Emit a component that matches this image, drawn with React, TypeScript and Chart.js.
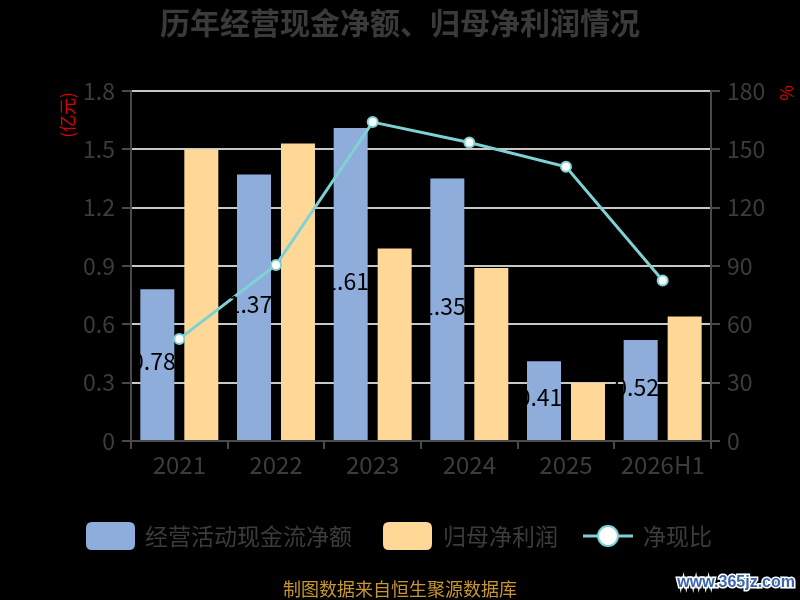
import React, { useEffect, useRef } from "react";
import { Chart, registerables } from "chart.js";

Chart.register(...registerables);

const categories = ["2021", "2022", "2023", "2024", "2025", "2026H1"];
const cashFlow = [0.78, 1.37, 1.61, 1.35, 0.41, 0.52];
const netProfit = [1.5, 1.53, 0.99, 0.89, 0.3, 0.64];
const cashRatio = [52.5, 90.5, 164, 153.5, 141, 82.5];
const leftTicks = ["0", "0.3", "0.6", "0.9", "1.2", "1.5", "1.8"];
const rightTicks = ["0", "30", "60", "90", "120", "150", "180"];
const seriesNames = ["经营活动现金流净额", "归母净利润", "净现比"];
const titleText = "历年经营现金净额、归母净利润情况";
const footerText = "制图数据来自恒生聚源数据库";
const watermarkText = "www.365jz.com";
const leftUnit = "(亿元)";
const rightUnit = "%";

const FONT = '"Noto Sans CJK SC", "Noto Sans", sans-serif';
const BLUE = "#8eaddb";
const YELLOW = "#ffd898";
const TEAL = "#7ed2d4";
const TEXT = "#3c3c3c";

function roundRect(ctx: CanvasRenderingContext2D, x: number, y: number, w: number, h: number, r: number) {
  ctx.beginPath();
  ctx.moveTo(x + r, y);
  ctx.lineTo(x + w - r, y);
  ctx.quadraticCurveTo(x + w, y, x + w, y + r);
  ctx.lineTo(x + w, y + h - r);
  ctx.quadraticCurveTo(x + w, y + h, x + w - r, y + h);
  ctx.lineTo(x + r, y + h);
  ctx.quadraticCurveTo(x, y + h, x, y + h - r);
  ctx.lineTo(x, y + r);
  ctx.quadraticCurveTo(x, y, x + r, y);
  ctx.closePath();
}

const decorPlugin = {
  id: "decor",
  beforeDraw(chart: any) {
    const ctx = chart.ctx;
    ctx.save();
    ctx.fillStyle = "#000";
    ctx.fillRect(0, 0, chart.width, chart.height);
    ctx.restore();
  },
  afterDatasetsDraw(chart: any) {
    const ctx = chart.ctx;
    const meta = chart.getDatasetMeta(0);
    ctx.save();
    ctx.font = `23px ${FONT}`;
    ctx.fillStyle = "#000";
    ctx.textAlign = "center";
    ctx.textBaseline = "middle";
    meta.data.forEach((bar: any, i: number) => {
      const y = (bar.y + bar.base) / 2 - 3;
      ctx.fillText(cashFlow[i].toFixed(2), bar.x - 4, y);
    });
    ctx.restore();
  },
  afterDraw(chart: any) {
    const ctx = chart.ctx;
    ctx.save();
    // title
    ctx.font = `bold 30px ${FONT}`;
    ctx.fillStyle = "#3a3a3a";
    ctx.textAlign = "center";
    ctx.textBaseline = "middle";
    ctx.fillText(titleText, 400, 23);

    // units
    ctx.fillStyle = "#e00000";
    ctx.font = `17px ${FONT}`;
    ctx.save();
    ctx.translate(68, 115);
    ctx.rotate(-Math.PI / 2);
    ctx.fillText(leftUnit, 0, 0);
    ctx.restore();
    ctx.save();
    ctx.font = `17px ${FONT}`;
    ctx.translate(787, 93);
    ctx.rotate(-Math.PI / 2);
    ctx.fillText(rightUnit, 0, 0);
    ctx.restore();

    // legend
    const ly = 536;
    ctx.font = `23px ${FONT}`;
    ctx.textAlign = "left";
    ctx.fillStyle = BLUE;
    roundRect(ctx, 86, ly - 14, 49, 28, 6);
    ctx.fill();
    ctx.fillStyle = TEXT;
    ctx.fillText(seriesNames[0], 145, ly);

    ctx.fillStyle = YELLOW;
    roundRect(ctx, 383, ly - 14, 49, 28, 6);
    ctx.fill();
    ctx.fillStyle = TEXT;
    ctx.fillText(seriesNames[1], 443, ly);

    ctx.strokeStyle = TEAL;
    ctx.lineWidth = 3;
    ctx.beginPath();
    ctx.moveTo(583, ly);
    ctx.lineTo(633, ly);
    ctx.stroke();
    ctx.beginPath();
    ctx.arc(608, ly, 10, 0, Math.PI * 2);
    ctx.fillStyle = "#fff";
    ctx.fill();
    ctx.lineWidth = 2;
    ctx.stroke();
    ctx.fillStyle = TEXT;
    ctx.fillText(seriesNames[2], 643, ly);

    // footer
    ctx.textAlign = "center";
    ctx.font = `18px ${FONT}`;
    ctx.fillStyle = "#c8962e";
    ctx.fillText(footerText, 400, 589);

    // watermark
    ctx.font = `bold 16px "Liberation Sans", sans-serif`;
    ctx.textAlign = "right";
    ctx.lineWidth = 3;
    ctx.strokeStyle = "#ffffff";
    ctx.strokeText(watermarkText, 795, 583);
    ctx.fillStyle = "#3a66b0";
    ctx.fillText(watermarkText, 795, 583);
    ctx.restore();
  },
};

export default function App() {
  const ref = useRef<HTMLCanvasElement | null>(null);
  useEffect(() => {
    if (!ref.current) return;
    const chart = new Chart(ref.current, {
      type: "bar",
      data: {
        labels: categories,
        datasets: [
          {
            type: "bar",
            label: seriesNames[0],
            data: cashFlow,
            backgroundColor: BLUE,
            yAxisID: "y",
            order: 2,
          },
          {
            type: "bar",
            label: seriesNames[1],
            data: netProfit,
            backgroundColor: YELLOW,
            yAxisID: "y",
            order: 2,
          },
          {
            type: "line",
            label: seriesNames[2],
            data: cashRatio,
            borderColor: TEAL,
            borderWidth: 3,
            pointRadius: 5,
            pointBackgroundColor: "#fff",
            pointBorderColor: TEAL,
            pointBorderWidth: 2,
            yAxisID: "y1",
            order: 1,
            tension: 0,
          } as any,
        ],
      },
      options: {
        responsive: false,
        animation: false,
        devicePixelRatio: 1,
        layout: { padding: { top: 91, left: 0, right: 0, bottom: 0 } },
        datasets: { bar: { categoryPercentage: 0.91, barPercentage: 0.773 } } as any,
        plugins: {
          legend: { display: false },
          title: { display: false },
          tooltip: { enabled: false },
        },
        scales: {
          x: {
            offset: true,
            grid: {
              offset: true,
              drawOnChartArea: false,
              tickLength: 8,
              tickColor: "#4a4a4a",
              lineWidth: 2,
            },
            border: { color: "#4a4a4a", width: 2 },
            ticks: {
              color: TEXT,
              font: { family: FONT, size: 24 },
              maxRotation: 0,
              padding: 1,
            },
            afterFit(scale: any) {
              scale.height = 159;
            },
          },
          y: {
            position: "left",
            min: 0,
            max: 1.8,
            grid: {
              color: "#c8c8c8",
              lineWidth: 2,
              tickLength: 9,
              tickColor: "#4a4a4a",
            },
            border: { color: "#4a4a4a", width: 2 },
            ticks: {
              stepSize: 0.3,
              color: TEXT,
              font: { family: FONT, size: 23 },
              padding: 7,
              callback: (_v: any, i: number) => leftTicks[i],
            },
            afterFit(scale: any) {
              scale.width = 131;
            },
          },
          y1: {
            position: "right",
            min: 0,
            max: 180,
            grid: {
              drawOnChartArea: false,
              tickLength: 9,
              tickColor: "#4a4a4a",
              lineWidth: 2,
            },
            border: { color: "#4a4a4a", width: 2 },
            ticks: {
              stepSize: 30,
              color: TEXT,
              font: { family: FONT, size: 23 },
              padding: 7,
              callback: (_v: any, i: number) => rightTicks[i],
            },
            afterFit(scale: any) {
              scale.width = 89;
            },
          },
        },
      } as any,
      plugins: [decorPlugin],
    });
    return () => chart.destroy();
  }, []);
  return (
    <div style={{ position: "fixed", left: 0, top: 0, width: 800, height: 600, background: "#000" }}>
      <canvas ref={ref} width={800} height={600} style={{ display: "block" }} />
    </div>
  );
}
